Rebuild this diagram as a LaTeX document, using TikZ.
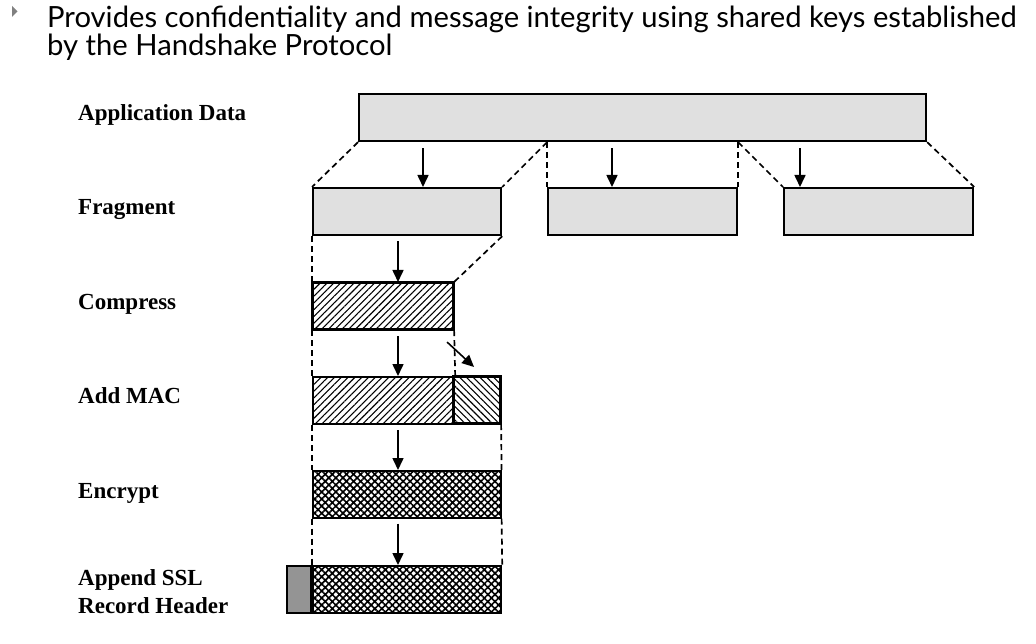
\documentclass[tikz,border=0pt]{standalone}
\usepackage{fontspec}
\setmainfont{Liberation Serif}
\newfontfamily\headfont{Lato}
\usetikzlibrary{arrows.meta,patterns.meta,positioning}

\tikzset{
  blk/.style={draw,line width=2.2pt,inner sep=0pt,anchor=north west,minimum height=47pt},
  datablk/.style={blk,fill=black!12},
  cmpblk/.style={blk,pattern={Lines[angle=45,distance=4.8pt,line width=1.1pt]}},
  macblk/.style={blk,pattern={Lines[angle=-45,distance=4.8pt,line width=1.1pt]}},
  encblk/.style={blk,pattern={Hatch[angle=45,distance=5pt,line width=1.6pt]}},
  hdrblk/.style={blk,fill=black!42},
  split/.style={line width=1.7pt,dash pattern=on 6pt off 4pt},
  flow/.style={line width=1.6pt,-{Triangle[length=12pt,width=11pt]}},
  steplbl/.style={font=\bfseries\fontsize{23}{28}\selectfont,anchor=base west,inner sep=0pt},
  headline/.style={font=\headfont\fontsize{29.2}{30}\selectfont,anchor=base west,inner sep=0pt},
}

\begin{document}
\begin{tikzpicture}[x=1pt,y=-1pt]
\useasboundingbox (0,0) rectangle (1036,644);

% heading
\fill[black!50] (12,6) -- (17.5,11.5) -- (12,17) -- cycle;
\node[headline] (head1) at (47,28) {Provides confidentiality and message integrity using shared keys established};
\node[headline] (head2) at (47,56) {by the Handshake Protocol};

% step labels
\node[steplbl] (lApp) at (78,121) {Application Data};
\node[steplbl] (lFrag) at (78,215) {Fragment};
\node[steplbl] (lCmp) at (78,309) {Compress};
\node[steplbl] (lMac) at (78,403) {Add MAC};
\node[steplbl] (lEnc) at (78,498) {Encrypt};
\node[steplbl] (lRecA) at (78,585) {Append SSL};
\node[steplbl] (lRecB) at (78,613) {Record Header};

% blocks
\node[datablk,minimum width=567pt] (app) at (358,93) {};
\node[datablk,minimum width=188pt] (frA) at (312,187) {};
\node[datablk,minimum width=189pt] (frB) at (547,187) {};
\node[datablk,minimum width=189pt] (frC) at (783,187) {};
\node[cmpblk,minimum width=141pt] (cmp) at (312,282) {};
\node[cmpblk,minimum width=141pt] (macdata) at (312,376) {};
\node[macblk,minimum width=47pt] (mac) at (453,376) {};
\node[encblk,minimum width=188pt] (enc) at (312,470) {};
\node[encblk,minimum width=188pt] (rec) at (312,565) {};
\node[hdrblk,minimum width=24pt,anchor=north east] (hdr) at (312,565) {};

% dashed guides
\draw[split] (app.south west) -- (frA.north west);
\draw[split] (app.south -| frB.north west) -- (frA.north east);
\draw[split] (app.south -| frB.north west) -- (frB.north west);
\draw[split] (app.south -| frB.north east) -- (frB.north east);
\draw[split] (app.south -| frB.north east) -- (frC.north west);
\draw[split] (app.south east) -- (frC.north east);
\draw[split] (frA.south west) -- (cmp.north west);
\draw[split] (frA.south east) -- (cmp.north east);
\draw[split] (cmp.south west) -- (macdata.north west);
\draw[split] (cmp.south east) -- (macdata.north east);
\draw[split] (macdata.south west) -- (enc.north west);
\draw[split] (mac.south east) -- (enc.north east);
\draw[split] (enc.south west) -- (rec.north west);
\draw[split] (enc.south east) -- (rec.north east);

% arrows
\coordinate (colA) at (423,0);
\coordinate (colB) at (612,0);
\coordinate (colC) at (800,0);
\coordinate (colD) at (398,0);
\draw[flow] ([yshift=-6pt]app.south -| colA) -- (frA.north -| colA);
\draw[flow] ([yshift=-6pt]app.south -| colB) -- (frB.north -| colB);
\draw[flow] ([yshift=-6pt]app.south -| colC) -- (frC.north -| colC);
\draw[flow] ([yshift=-5pt]frA.south -| colD) -- (cmp.north -| colD);
\draw[flow] ([yshift=-6pt]cmp.south -| colD) -- (macdata.north -| colD);
\draw[flow] ([yshift=-5pt]macdata.south -| colD) -- (enc.north -| colD);
\draw[flow] ([yshift=-5pt]enc.south -| colD) -- (rec.north -| colD);
\draw[flow] ([xshift=-7pt,yshift=-12pt]cmp.south east) -- ([xshift=-3pt,yshift=9pt]mac.north);
\end{tikzpicture}
\end{document}
